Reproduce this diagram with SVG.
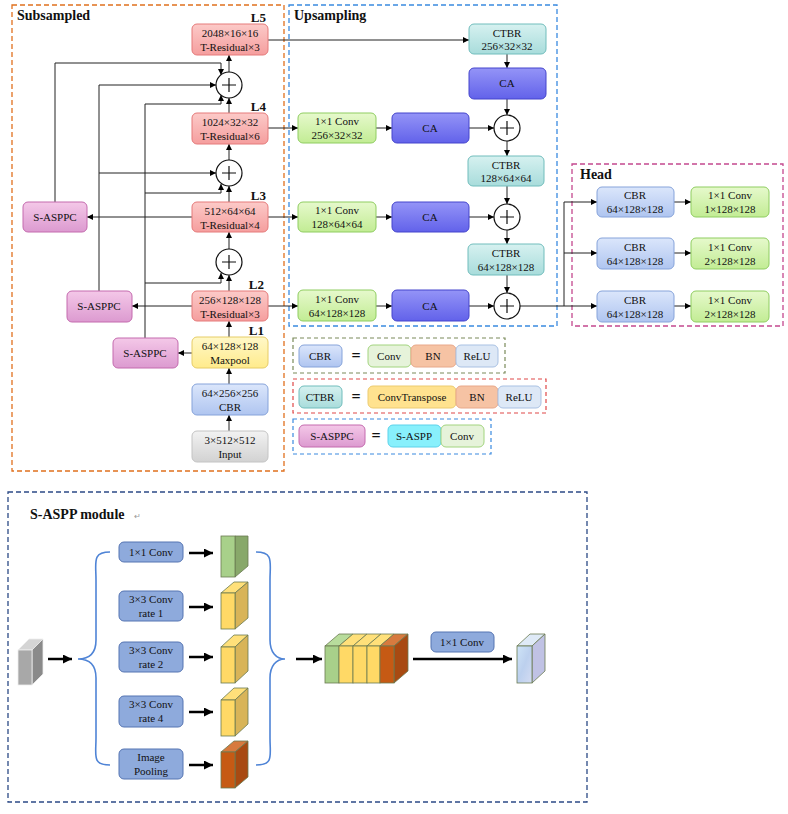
<svg xmlns="http://www.w3.org/2000/svg" width="788" height="814" viewBox="0 0 788 814">
<defs>
<linearGradient id="gRed" x1="0" y1="0" x2="0" y2="1"><stop offset="0" stop-color="#fccac8"/><stop offset="1" stop-color="#f59e9e"/></linearGradient>
<linearGradient id="gYel" x1="0" y1="0" x2="0" y2="1"><stop offset="0" stop-color="#fff8c8"/><stop offset="1" stop-color="#ffeb8c"/></linearGradient>
<linearGradient id="gBlue" x1="0" y1="0" x2="0" y2="1"><stop offset="0" stop-color="#dbe6fb"/><stop offset="1" stop-color="#afc5f0"/></linearGradient>
<linearGradient id="gGray" x1="0" y1="0" x2="0" y2="1"><stop offset="0" stop-color="#f2f2f2"/><stop offset="1" stop-color="#d2d2d2"/></linearGradient>
<linearGradient id="gPink" x1="0" y1="0" x2="0" y2="1"><stop offset="0" stop-color="#f4c8e8"/><stop offset="1" stop-color="#dc9ad0"/></linearGradient>
<linearGradient id="gTeal" x1="0" y1="0" x2="0" y2="1"><stop offset="0" stop-color="#d6f1f0"/><stop offset="1" stop-color="#a8dcdb"/></linearGradient>
<linearGradient id="gCA" x1="0" y1="0" x2="0" y2="1"><stop offset="0" stop-color="#9494f7"/><stop offset="1" stop-color="#6262ea"/></linearGradient>
<linearGradient id="gGreen" x1="0" y1="0" x2="0" y2="1"><stop offset="0" stop-color="#e6f9cc"/><stop offset="1" stop-color="#c2ec94"/></linearGradient>
<linearGradient id="gIce" x1="0" y1="0" x2="1" y2="1"><stop offset="0" stop-color="#cfe4f7"/><stop offset="0.5" stop-color="#bcd0ee"/><stop offset="1" stop-color="#d4dcf2"/></linearGradient>
<marker id="ah" viewBox="0 0 10 10" refX="10" refY="5" markerWidth="6" markerHeight="6" orient="auto" markerUnits="userSpaceOnUse"><path d="M0,0 L10,5 L0,10 z" fill="#000"/></marker>
<marker id="ahb" viewBox="0 0 10 10" refX="10" refY="5" markerWidth="10" markerHeight="9" orient="auto" markerUnits="userSpaceOnUse"><path d="M0,0 L10,5 L0,10 z" fill="#000"/></marker>
</defs>
<style>
text{font-family:"Liberation Serif","Times New Roman",serif;fill:#111;}
.t{font-size:11px;text-anchor:middle;}
.ttl{font-size:14px;font-weight:bold;}
.lv{font-size:13px;font-weight:bold;text-anchor:end;}
.eq{font-size:16px;font-weight:bold;text-anchor:middle;}
.bx{rx:5;stroke-width:1;}
.red{fill:url(#gRed);stroke:#e57a7a;}
.yel{fill:url(#gYel);stroke:#e6cc66;}
.blu{fill:url(#gBlue);stroke:#86a3da;}
.gry{fill:url(#gGray);stroke:#c4c4c4;}
.pnk{fill:url(#gPink);stroke:#c46aae;}
.tea{fill:url(#gTeal);stroke:#70bdbc;}
.ca{fill:url(#gCA);stroke:#4545cc;}
.grn{fill:url(#gGreen);stroke:#8fcd60;}
.ln{fill:none;stroke:#222;stroke-width:1;}
.ar{fill:none;stroke:#222;stroke-width:1;marker-end:url(#ah);}
.arb{fill:none;stroke:#000;stroke-width:2.5;marker-end:url(#ahb);}
.plus circle{fill:#fff;stroke:#111;stroke-width:1.2;}
.plus path{stroke:#111;stroke-width:1.2;fill:none;}
.mb{fill:#8eaadc;stroke:#5574b2;rx:5;}
.brace{fill:none;stroke:#4f84d6;stroke-width:1.6;}
.cs{stroke:#6a7a50;stroke-width:0.8;}
</style>

<g id="frames">
<rect x="12" y="5" width="272" height="466" fill="none" stroke="#e0701e" stroke-width="1.3" stroke-dasharray="5,3"/>
<rect x="289" y="5" width="268" height="321" fill="none" stroke="#3a8ae0" stroke-width="1.3" stroke-dasharray="5,3"/>
<rect x="572" y="164" width="211" height="162" fill="none" stroke="#c4488e" stroke-width="1.3" stroke-dasharray="5,3"/>
<text class="ttl" x="17" y="20">Subsampled</text>
<text class="ttl" x="294" y="20">Upsampling</text>
<text class="ttl" x="580" y="179">Head</text>
</g>

<g id="connectors">
<!-- backbone vertical -->
<path class="ar" d="M229,431 V415"/>
<path class="ar" d="M229,384 V368"/>
<path class="ar" d="M229,337 V321"/>
<path class="ar" d="M229,291 V275"/>
<path class="ar" d="M229,249 V232"/>
<path class="ar" d="M229,202 V186"/>
<path class="ar" d="M229,160 V144"/>
<path class="ar" d="M229,113 V98"/>
<path class="ar" d="M229,72 V55"/>
<!-- to S-ASPPC -->
<path class="ar" d="M192,353 H178"/>
<path class="ar" d="M192,306 H132"/>
<path class="ar" d="M192,217 H87"/>
<!-- S-ASPPC feedback -->
<path class="ar" d="M55,202 V63 H221 V75"/>
<path class="ar" d="M99,291 V85 H216"/>
<path class="ar" d="M99,173 H216"/>
<path class="ar" d="M145,338 V104 H221 V95"/>
<path class="ar" d="M145,193 H221 V184"/>
<path class="ar" d="M145,283 H221 V273"/>
<!-- to upsampling -->
<path class="ar" d="M268,40 H469"/>
<path class="ar" d="M268,128 H298"/>
<path class="ar" d="M268,217 H298"/>
<path class="ar" d="M268,306 H298"/>
<path class="ar" d="M376,128 H392"/>
<path class="ar" d="M376,217 H392"/>
<path class="ar" d="M376,306 H392"/>
<path class="ar" d="M469,128 H494"/>
<path class="ar" d="M469,217 H494"/>
<path class="ar" d="M469,306 H494"/>
<path class="ar" d="M507,54 V68"/>
<path class="ar" d="M507,99 V115"/>
<path class="ar" d="M507,141 V156"/>
<path class="ar" d="M507,186 V204"/>
<path class="ar" d="M507,230 V244"/>
<path class="ar" d="M507,275 V293"/>
<!-- to head -->
<path class="ar" d="M520,306 H597"/>
<path class="ln" d="M564,306 V202"/>
<path class="ar" d="M564,202 H597"/>
<path class="ar" d="M564,253 H597"/>
<path class="ar" d="M674,202 H691"/>
<path class="ar" d="M674,253 H691"/>
<path class="ar" d="M674,306 H691"/>
</g>

<g id="plus-nodes">
<g class="plus" id="plus1"><circle cx="229" cy="85" r="13"/><path d="M222,85 H236 M229,78 V92"/></g>
<g class="plus" id="plus2"><circle cx="229" cy="173" r="13"/><path d="M222,173 H236 M229,166 V180"/></g>
<g class="plus" id="plus3"><circle cx="229" cy="262" r="13"/><path d="M222,262 H236 M229,255 V269"/></g>
<g class="plus" id="plusU1"><circle cx="507" cy="128" r="13"/><path d="M500,128 H514 M507,121 V135"/></g>
<g class="plus" id="plusU2"><circle cx="507" cy="217" r="13"/><path d="M500,217 H514 M507,210 V224"/></g>
<g class="plus" id="plusU3"><circle cx="507" cy="306" r="13"/><path d="M500,306 H514 M507,299 V313"/></g>
</g>

<g id="L5"><text class="lv" x="266" y="22">L5</text><rect class="bx red" x="192" y="24" width="76" height="31"/><text class="t" x="230" y="37">2048×16×16</text><text class="t" x="230" y="51">T-Residual×3</text></g>
<g id="L4"><text class="lv" x="266" y="111">L4</text><rect class="bx red" x="192" y="113" width="76" height="31"/><text class="t" x="230" y="126">1024×32×32</text><text class="t" x="230" y="140">T-Residual×6</text></g>
<g id="L3"><text class="lv" x="266" y="200">L3</text><rect class="bx red" x="192" y="202" width="76" height="30"/><text class="t" x="230" y="215">512×64×64</text><text class="t" x="230" y="229">T-Residual×4</text></g>
<g id="L2"><text class="lv" x="264" y="289">L2</text><rect class="bx red" x="192" y="291" width="76" height="30"/><text class="t" x="230" y="304">256×128×128</text><text class="t" x="230" y="318">T-Residual×3</text></g>
<g id="L1"><text class="lv" x="264" y="335">L1</text><rect class="bx yel" x="192" y="337" width="76" height="31"/><text class="t" x="230" y="350">64×128×128</text><text class="t" x="230" y="364">Maxpool</text></g>
<g id="cbr0"><rect class="bx blu" x="192" y="384" width="76" height="31"/><text class="t" x="230" y="397">64×256×256</text><text class="t" x="230" y="411">CBR</text></g>
<g id="input"><rect class="bx gry" x="192" y="431" width="76" height="31"/><text class="t" x="230" y="444">3×512×512</text><text class="t" x="230" y="458">Input</text></g>
<g id="saspp1"><rect class="bx pnk" x="23" y="202" width="64" height="30"/><text class="t" x="55" y="221">S-ASPPC</text></g>
<g id="saspp2"><rect class="bx pnk" x="67" y="291" width="65" height="31"/><text class="t" x="99" y="310">S-ASPPC</text></g>
<g id="saspp3"><rect class="bx pnk" x="113" y="338" width="65" height="30"/><text class="t" x="145" y="357">S-ASPPC</text></g>

<g id="ctbr1"><rect class="bx tea" x="469" y="24" width="77" height="30"/><text class="t" x="507" y="37">CTBR</text><text class="t" x="507" y="50">256×32×32</text></g>
<g id="ca1"><rect class="bx ca" x="469" y="68" width="77" height="31"/><text class="t" x="507" y="87">CA</text></g>
<g id="conv1"><rect class="bx grn" x="298" y="113" width="78" height="30"/><text class="t" x="337" y="125">1×1 Conv</text><text class="t" x="337" y="139">256×32×32</text></g>
<g id="caR1"><rect class="bx ca" x="392" y="113" width="77" height="30"/><text class="t" x="430" y="132">CA</text></g>
<g id="ctbr2"><rect class="bx tea" x="468" y="156" width="76" height="30"/><text class="t" x="506" y="169">CTBR</text><text class="t" x="506" y="182">128×64×64</text></g>
<g id="conv2"><rect class="bx grn" x="298" y="202" width="78" height="30"/><text class="t" x="337" y="214">1×1 Conv</text><text class="t" x="337" y="228">128×64×64</text></g>
<g id="caR2"><rect class="bx ca" x="392" y="202" width="77" height="30"/><text class="t" x="430" y="221">CA</text></g>
<g id="ctbr3"><rect class="bx tea" x="468" y="244" width="76" height="31"/><text class="t" x="506" y="257">CTBR</text><text class="t" x="506" y="271">64×128×128</text></g>
<g id="conv3"><rect class="bx grn" x="298" y="290" width="78" height="31"/><text class="t" x="337" y="303">1×1 Conv</text><text class="t" x="337" y="317">64×128×128</text></g>
<g id="caR3"><rect class="bx ca" x="392" y="290" width="77" height="31"/><text class="t" x="430" y="310">CA</text></g>

<g id="head1"><rect class="bx blu" x="597" y="187" width="77" height="30"/><text class="t" x="635" y="199">CBR</text><text class="t" x="635" y="213">64×128×128</text></g>
<g id="head1c"><rect class="bx grn" x="691" y="187" width="78" height="30"/><text class="t" x="730" y="199">1×1 Conv</text><text class="t" x="730" y="213">1×128×128</text></g>
<g id="head2"><rect class="bx blu" x="597" y="238" width="77" height="31"/><text class="t" x="635" y="251">CBR</text><text class="t" x="635" y="265">64×128×128</text></g>
<g id="head2c"><rect class="bx grn" x="691" y="238" width="78" height="31"/><text class="t" x="730" y="251">1×1 Conv</text><text class="t" x="730" y="265">2×128×128</text></g>
<g id="head3"><rect class="bx blu" x="597" y="291" width="77" height="31"/><text class="t" x="635" y="304">CBR</text><text class="t" x="635" y="318">64×128×128</text></g>
<g id="head3c"><rect class="bx grn" x="691" y="291" width="78" height="31"/><text class="t" x="730" y="304">1×1 Conv</text><text class="t" x="730" y="318">2×128×128</text></g>

<g id="legend-cbr">
<rect x="293" y="338" width="212" height="35" fill="none" stroke="#7a8a5a" stroke-width="1.2" stroke-dasharray="4,3"/>
<rect class="bx blu" x="299" y="345" width="43" height="22"/><text class="t" x="320" y="360">CBR</text>
<text class="eq" x="356" y="361">=</text>
<rect class="bx" x="368" y="345" width="43" height="22" fill="#e6f3da" stroke="#a2d47e"/><text class="t" x="389" y="360">Conv</text>
<rect class="bx" x="411" y="345" width="45" height="22" fill="#f6c3a4" stroke="#e8a88a"/><text class="t" x="433" y="360">BN</text>
<rect class="bx" x="456" y="345" width="42" height="22" fill="#dde8f6" stroke="#a9c1e3"/><text class="t" x="477" y="360">ReLU</text>
</g>
<g id="legend-ctbr">
<rect x="293" y="379" width="253" height="34" fill="none" stroke="#e04848" stroke-width="1.2" stroke-dasharray="4,3"/>
<rect class="bx tea" x="299" y="386" width="43" height="22"/><text class="t" x="320" y="401">CTBR</text>
<text class="eq" x="356" y="402">=</text>
<rect class="bx" x="368" y="386" width="88" height="22" fill="#ffe28f" stroke="#eccb70"/><text class="t" x="412" y="401">ConvTranspose</text>
<rect class="bx" x="456" y="386" width="42" height="22" fill="#f6c3a4" stroke="#e8a88a"/><text class="t" x="477" y="401">BN</text>
<rect class="bx" x="498" y="386" width="43" height="22" fill="#dde8f6" stroke="#a9c1e3"/><text class="t" x="519" y="401">ReLU</text>
</g>
<g id="legend-saspp">
<rect x="293" y="419" width="198" height="35" fill="none" stroke="#3a8ae0" stroke-width="1.2" stroke-dasharray="4,3"/>
<rect class="bx pnk" x="299" y="425" width="66" height="22"/><text class="t" x="332" y="440">S-ASPPC</text>
<text class="eq" x="376" y="441">=</text>
<rect class="bx" x="388" y="425" width="53" height="22" fill="#88f0fc" stroke="#5cd2ea"/><text class="t" x="414" y="440">S-ASPP</text>
<rect class="bx" x="441" y="425" width="43" height="22" fill="#e6f3da" stroke="#a2d47e"/><text class="t" x="462" y="440">Conv</text>
</g>

<g id="saspp-module">
<rect x="8" y="492" width="579" height="310" fill="none" stroke="#2c4a86" stroke-width="1.3" stroke-dasharray="5,3"/>
<text class="ttl" x="30" y="519">S-ASPP module</text><text x="134" y="519" style="font-size:8px;fill:#999;">↵</text>
</g>

<g id="in-cube">
<polygon points="18,650 32,650 43,639 29,639" fill="#d4d4d4" stroke="#eee" stroke-width="0.8"/>
<polygon points="32,650 43,639 43,674 32,685" fill="#8a8a8a" stroke="#eee" stroke-width="0.8"/>
<rect x="18" y="650" width="14" height="35" fill="#a8a8a8" stroke="#eee" stroke-width="0.8"/>
</g>

<g id="aspp-connectors">
<path class="arb" d="M48,659 H72"/>
<path class="brace" d="M110,552 C92,552 96,562 96,580 V640 C96,652 90,659 78,659 C90,659 96,666 96,678 V738 C96,756 92,765 110,765"/>
<path class="brace" d="M256,552 C274,552 270,562 270,580 V640 C270,652 276,659 285,659 C276,659 270,666 270,678 V738 C270,756 274,765 256,765"/>
<path class="arb" d="M189,553 H213"/>
<path class="arb" d="M189,607 H213"/>
<path class="arb" d="M189,657 H213"/>
<path class="arb" d="M189,712 H213"/>
<path class="arb" d="M189,765 H213"/>
<path class="arb" d="M296,659 H322"/>
<path class="arb" d="M413,659 H512"/>
</g>

<g id="b1"><rect class="mb" x="119" y="542" width="64" height="20"/><text class="t" x="151" y="556">1×1 Conv</text></g>
<g id="b2"><rect class="mb" x="119" y="591" width="64" height="30"/><text class="t" x="151" y="603">3×3 Conv</text><text class="t" x="151" y="617">rate 1</text></g>
<g id="b3"><rect class="mb" x="119" y="642" width="64" height="30"/><text class="t" x="151" y="654">3×3 Conv</text><text class="t" x="151" y="668">rate 2</text></g>
<g id="b4"><rect class="mb" x="119" y="696" width="64" height="31"/><text class="t" x="151" y="708">3×3 Conv</text><text class="t" x="151" y="722">rate 4</text></g>
<g id="b5"><rect class="mb" x="119" y="749" width="64" height="30"/><text class="t" x="151" y="761">Image</text><text class="t" x="151" y="775">Pooling</text></g>

<g id="cube1">
<polygon class="cs" points="235,536 248,536 248,566 235,577" fill="#88a86a"/>
<rect class="cs" x="221" y="536" width="14" height="41" fill="#a8d08a"/>
</g>
<g id="cube2">
<polygon class="cs" points="221,593 235,593 248,582 234,582" fill="#ffe07a"/>
<polygon class="cs" points="235,593 248,582 248,618 235,629" fill="#d8b458"/>
<rect class="cs" x="221" y="593" width="14" height="36" fill="#ffd966"/>
</g>
<g id="cube3">
<polygon class="cs" points="221,647 235,647 248,635 234,635" fill="#ffe07a"/>
<polygon class="cs" points="235,647 248,635 248,671 235,683" fill="#d8b458"/>
<rect class="cs" x="221" y="647" width="14" height="36" fill="#ffd966"/>
</g>
<g id="cube4">
<polygon class="cs" points="221,700 235,700 248,688 234,688" fill="#ffe07a"/>
<polygon class="cs" points="235,700 248,688 248,724 235,736" fill="#d8b458"/>
<rect class="cs" x="221" y="700" width="14" height="36" fill="#ffd966"/>
</g>
<g id="cube5">
<polygon class="cs" points="221,752 235,752 248,741 234,741" fill="#d77a3e"/>
<polygon class="cs" points="235,752 248,741 248,777 235,788" fill="#a84a12"/>
<rect class="cs" x="221" y="752" width="14" height="36" fill="#c65a14"/>
</g>

<g id="concat">
<polygon class="cs" points="325,646 339,646 353,634 339,634" fill="#b8dc9c"/>
<polygon class="cs" points="339,646 353,646 367,634 353,634" fill="#ffe07a"/>
<polygon class="cs" points="353,646 367,646 381,634 367,634" fill="#ffe07a"/>
<polygon class="cs" points="367,646 380,646 394,634 381,634" fill="#ffe07a"/>
<polygon class="cs" points="380,646 394,646 408,634 394,634" fill="#d77a3e"/>
<polygon class="cs" points="394,646 408,634 408,671 394,683" fill="#a84a12"/>
<rect class="cs" x="325" y="646" width="14" height="37" fill="#a8d08a"/>
<rect class="cs" x="339" y="646" width="14" height="37" fill="#ffd966"/>
<rect class="cs" x="353" y="646" width="14" height="37" fill="#ffd966"/>
<rect class="cs" x="367" y="646" width="13" height="37" fill="#ffd966"/>
<rect class="cs" x="380" y="646" width="14" height="37" fill="#c65a14"/>
</g>
<g id="conv-out"><rect class="mb" x="431" y="632" width="63" height="20"/><text class="t" x="462" y="646">1×1 Conv</text></g>
<g id="out-cube">
<polygon class="cs" points="517,646 532,646 545,634 530,634" fill="#dfeaf7"/>
<polygon class="cs" points="532,646 545,634 545,671 532,683" fill="#c0c2e4"/>
<rect class="cs" x="517" y="646" width="15" height="37" fill="url(#gIce)"/>
</g>
</svg>
